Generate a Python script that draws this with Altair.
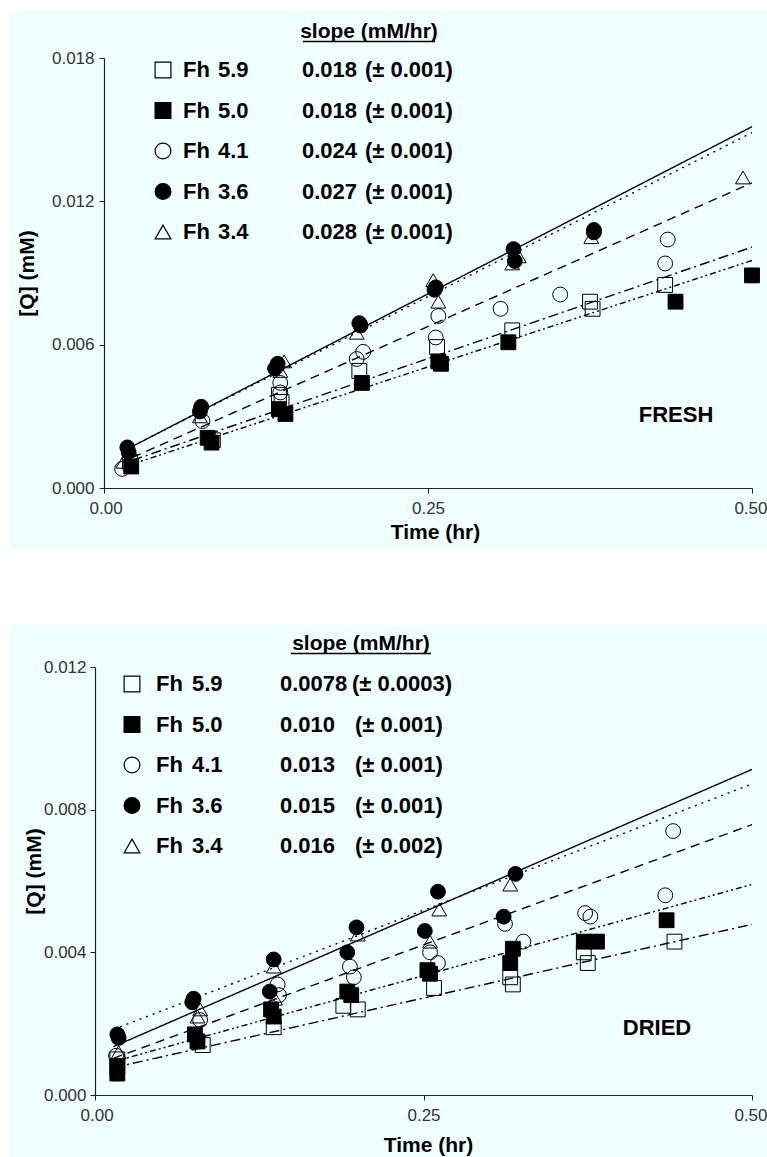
import altair as alt
import pandas as pd

# ---------------- data ----------------
nums = ["5.9", "5.0", "4.1", "3.6", "3.4"]
series = ["Fh " + n for n in nums]
shapes = ["square", "square", "circle", "circle", "triangle-up"]
fills = ["transparent", "black", "transparent", "black", "transparent"]
dashes = [[10, 4, 2, 4], [6, 3, 2, 3, 2, 3], [9, 6], [2, 5], [1, 0]]

# FRESH panel
f59_t = [0.020, 0.084, 0.135, 0.137, 0.197, 0.257, 0.315, 0.375, 0.377, 0.433]
f59_q = [0.0011, 0.0020, 0.0039, 0.0036, 0.0049, 0.0059, 0.0066, 0.0078, 0.0075, 0.0085]
f50_t = [0.021, 0.080, 0.083, 0.135, 0.140, 0.199, 0.258, 0.260, 0.312, 0.441, 0.500]
f50_q = [0.0009, 0.0021, 0.0019, 0.0033, 0.0031, 0.0044, 0.0053, 0.0052, 0.0061, 0.0078, 0.0089]
f41_t = [0.014, 0.076, 0.136, 0.136, 0.195, 0.200, 0.258, 0.256, 0.306, 0.352, 0.433, 0.435]
f41_q = [0.0008, 0.0028, 0.0044, 0.0040, 0.0054, 0.0057, 0.0072, 0.0063, 0.0075, 0.0081, 0.0094, 0.0104]
f36_t = [0.018, 0.019, 0.075, 0.074, 0.134, 0.132, 0.197, 0.198, 0.256, 0.255, 0.316, 0.317, 0.378, 0.378]
f36_q = [0.0017, 0.0015, 0.0034, 0.0032, 0.0052, 0.0050, 0.0069, 0.0068, 0.0084, 0.0083, 0.0100, 0.0095, 0.0108, 0.0107]
f34_t = [0.015, 0.074, 0.139, 0.136, 0.195, 0.254, 0.258, 0.315, 0.320, 0.376, 0.493]
f34_q = [0.0011, 0.0030, 0.0053, 0.0049, 0.0065, 0.0087, 0.0078, 0.0094, 0.0097, 0.0105, 0.0130]
fresh_fit_slope = [0.01867, 0.01783, 0.02405, 0.02745, 0.02799]
fresh_fit_icpt = [0.00075, 0.00061, 0.00075, 0.00115, 0.00113]
fresh_fit_start = 0.022
fresh_slope_txt = ["0.018", "0.018", "0.024", "0.027", "0.028"]
fresh_err_txt = ["(± 0.001)", "(± 0.001)", "(± 0.001)", "(± 0.001)", "(± 0.001)"]

# DRIED panel
d59_t = [0.017, 0.082, 0.136, 0.189, 0.200, 0.258, 0.316, 0.318, 0.372, 0.375, 0.441]
d59_q = [0.0010, 0.0014, 0.0019, 0.0025, 0.0024, 0.0030, 0.0033, 0.0031, 0.0040, 0.0037, 0.0043]
d50_t = [0.017, 0.017, 0.076, 0.078, 0.134, 0.136, 0.192, 0.195, 0.255, 0.253, 0.318, 0.316, 0.372, 0.382, 0.435]
d50_q = [0.0006, 0.0008, 0.0017, 0.0015, 0.0024, 0.0022, 0.0029, 0.0028, 0.0034, 0.0035, 0.0041, 0.0037, 0.0043, 0.0043, 0.0049]
d41_t = [0.016, 0.080, 0.139, 0.140, 0.194, 0.197, 0.255, 0.261, 0.312, 0.326, 0.373, 0.377, 0.434, 0.440]
d41_q = [0.0011, 0.0021, 0.0031, 0.0028, 0.0036, 0.0033, 0.0040, 0.0037, 0.0048, 0.0043, 0.0051, 0.0050, 0.0056, 0.0074]
d36_t = [0.017, 0.018, 0.075, 0.074, 0.136, 0.133, 0.199, 0.192, 0.261, 0.251, 0.320, 0.311]
d36_q = [0.0017, 0.0016, 0.0027, 0.0026, 0.0038, 0.0029, 0.0047, 0.0040, 0.0057, 0.0046, 0.0062, 0.0050]
d34_t = [0.018, 0.080, 0.078, 0.136, 0.137, 0.200, 0.262, 0.255, 0.316]
d34_q = [0.0012, 0.0024, 0.0022, 0.0036, 0.0027, 0.0045, 0.0052, 0.0043, 0.0059]
dried_fit_slope = [0.00827, 0.01023, 0.01348, 0.01416, 0.01600]
dried_fit_icpt = [0.00065, 0.00079, 0.00084, 0.00164, 0.00113]
dried_fit_start = 0.014
dried_slope_txt = ["0.0078", "0.010", "0.013", "0.015", "0.016"]
dried_err_txt = ["(± 0.0003)", "(± 0.001)", "(± 0.001)", "(± 0.001)", "(± 0.002)"]

X_END = 0.5
BG = "#F0FFFF"
FONT = "Liberation Sans"
ONE = pd.DataFrame({"k": [0]})


def points_df(ts, qs):
    rows = []
    for s, t_list, q_list in zip(series, ts, qs):
        for t, q in zip(t_list, q_list):
            rows.append({"series": s, "t": t, "q": q})
    return pd.DataFrame(rows)


def lines_df(slopes, icpts, x0):
    rows = []
    for s, b, a in zip(series, slopes, icpts):
        for x in (x0, X_END):
            rows.append({"series": s, "t": x, "q": a + b * x})
    return pd.DataFrame(rows)


def txt(x, y, s, size, align="left", weight="bold"):
    return alt.Chart(ONE).mark_text(align=align, baseline="middle", font=FONT,
                                    fontWeight=weight, fontSize=size,
                                    color="black").encode(
        x=alt.value(x), y=alt.value(y), text=alt.value(s))


def panel(ts, qs, slopes, icpts, x0, slope_txt, err_txt, label, g):
    pts = points_df(ts, qs)
    lns = lines_df(slopes, icpts, x0)

    xenc = alt.X("t:Q", scale=alt.Scale(domain=[0, 0.5], nice=False, range=[g["x0"], g["w"]]),
                 axis=alt.Axis(values=[0, 0.25, 0.5], format=".2f", title="Time (hr)",
                               titleX=g["xtx"], titleY=g["xty"], titleBaseline="middle",
                               labelPadding=7, labelFlush=True, labelFlushOffset=15,
                               zindex=1))
    yenc = alt.Y("q:Q", scale=alt.Scale(domain=[0, g["ymax"]], nice=False),
                 axis=alt.Axis(values=g["yticks"], format=".3f", title="[Q] (mM)",
                               titleX=g["ytx"], titleY=g["yty"], titleBaseline="middle",
                               labelPadding=g["ylp"], offset=-g["x0"], zindex=1))

    bg = alt.Chart(ONE).mark_rect(color=BG).encode(
        x=alt.value(g["bx1"]), x2=alt.value(g["bx2"]),
        y=alt.value(g["by1"]), y2=alt.value(g["by2"]))

    lines = alt.Chart(lns).mark_line(color="black", strokeWidth=1.4).encode(
        x=xenc, y=yenc,
        strokeDash=alt.StrokeDash("series:N", scale=alt.Scale(domain=series, range=dashes), legend=None),
        detail="series:N")

    shape_sc = alt.Scale(domain=series, range=shapes)
    fill_sc = alt.Scale(domain=series, range=fills)
    pts_layer = alt.Chart(pts).mark_point(filled=True, stroke="black", strokeWidth=1,
                                          size=220, opacity=1).encode(
        x=xenc, y=yenc,
        shape=alt.Shape("series:N", scale=shape_sc, legend=None),
        fill=alt.Fill("series:N", scale=fill_sc, legend=None))

    layers = [bg, lines, pts_layer]
    for i, s in enumerate(series):
        yy = g["ly0"] + i * g["lstep"]
        sym = alt.Chart(ONE).mark_point(shape=shapes[i], filled=True, fill=fills[i],
                                        stroke="black", strokeWidth=1.2, size=250,
                                        opacity=1).encode(
            x=alt.value(g["lsym"]), y=alt.value(yy))
        layers.append(sym)
        layers.append(txt(g["lfh"], yy, "Fh", g["lfs"]))
        layers.append(txt(g["lnum"], yy, nums[i], g["lfs"]))
        layers.append(txt(g["lval"], yy, slope_txt[i], g["lfs"]))
        layers.append(txt(g["perr0"] if i == 0 else g["perr"], yy, err_txt[i], g["lfs"]))
    layers.append(txt(g["hx"], g["hy"], "slope (mM/hr)", g["lfs"] - 1, align="center"))
    layers.append(alt.Chart(ONE).mark_rule(color="black", strokeWidth=1.3).encode(
        x=alt.value(g["ux1"]), x2=alt.value(g["ux2"]), y=alt.value(g["uy"])))
    layers.append(txt(g["tagx"], g["tagy"], label, 22, align="center"))

    return alt.layer(*layers).properties(width=g["w"], height=g["h"])


# panel geometry (pixels, relative to each panel's plot origin)
g_top = dict(w=657, h=430, x0=9, ymax=0.018, yticks=[0, 0.006, 0.012, 0.018],
             bx1=-86, bx2=672, by1=-47, by2=492,
             xtx=340, xty=44, ytx=-77, yty=215, ylp=5,
             lsym=68, lfh=88, lnum=123, lval=207, perr0=270, perr=270,
             ly0=12, lstep=40.5, lfs=22,
             hx=274, hy=-26, ux1=208, ux2=340, uy=-16.5,
             tagx=581, tagy=357)
g_bot = dict(w=657, h=428, x0=0, ymax=0.012, yticks=[0, 0.004, 0.008, 0.012],
             bx1=-86, bx2=672, by1=-42, by2=490,
             xtx=333, xty=50, ytx=-61, yty=204, ylp=4,
             lsym=37, lfh=61, lnum=97, lval=185, perr0=257, perr=260,
             ly0=17, lstep=40.5, lfs=22,
             hx=266, hy=-23, ux1=196, ux2=336, uy=-13.5,
             tagx=562, tagy=361)

top = panel([f59_t, f50_t, f41_t, f36_t, f34_t], [f59_q, f50_q, f41_q, f36_q, f34_q],
            fresh_fit_slope, fresh_fit_icpt, fresh_fit_start,
            fresh_slope_txt, fresh_err_txt, "FRESH", g_top)
bot = panel([d59_t, d50_t, d41_t, d36_t, d34_t], [d59_q, d50_q, d41_q, d36_q, d34_q],
            dried_fit_slope, dried_fit_icpt, dried_fit_start,
            dried_slope_txt, dried_err_txt, "DRIED", g_bot)

chart = alt.vconcat(top, bot, spacing=75).properties(
    background="white",
    padding={"left": 9, "top": 11, "right": 0, "bottom": 0},
).configure_view(stroke=None).configure_axis(
    grid=False, domainColor="#222", tickColor="#222", tickSize=5, domainWidth=1.2,
    labelFont=FONT, labelFontSize=17, labelColor="#333",
    titleFont=FONT, titleFontSize=21, titleFontWeight="bold", titleColor="black",
)

chart.save("out.html", embed_options={"renderer": "svg", "actions": False})
